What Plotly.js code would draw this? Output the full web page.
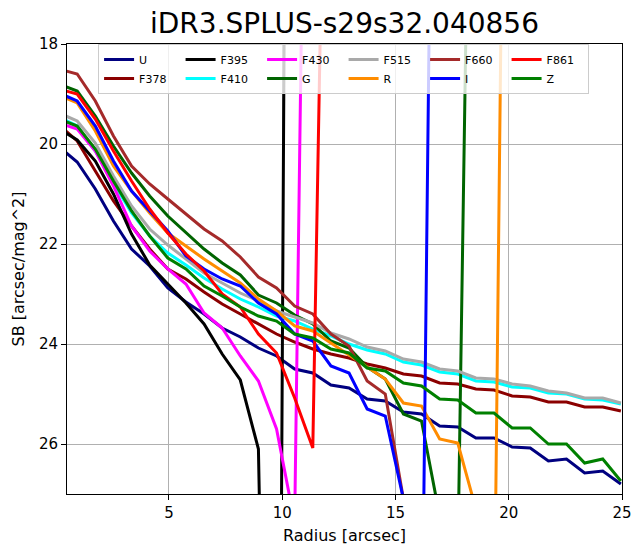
<!DOCTYPE html>
<html>
<head>
<meta charset="utf-8">
<script src="https://cdn.plot.ly/plotly-3.0.1.min.js"></script>
<style>html,body{margin:0;padding:0;background:#fff;}#chart{width:634px;height:550px;}</style>
</head>
<body>
<div id="chart"></div>
<script>
const radius = [0.15, 0.95, 1.75, 2.55, 3.35, 4.15, 4.95, 5.75, 6.55, 7.35, 8.15, 8.95, 9.75, 10.55, 11.35, 12.15,
                12.95, 13.75, 14.55, 15.35, 16.15, 16.95, 17.75, 18.55, 19.35, 20.15, 20.95, 21.75, 22.55, 23.35, 24.15, 24.95];

const sbU    = [20.06, 20.36, 20.9, 21.54, 22.1, 22.44, 22.88, 23.16, 23.4, 23.68, 23.86, 24.08, 24.24, 24.5, 24.58, 24.82,
                24.88, 25.1, 25.14, 25.36, 25.4, 25.64, 25.66, 25.88, 25.88, 26.06, 26.08, 26.34, 26.3, 26.58, 26.54, 26.8];
const sbF378 = [19.62, 19.94, 20.54, 21.14, 21.64, 22.1, 22.5, 22.7, 22.96, 23.2, 23.4, 23.6, 23.8, 23.96, 24.1, 24.2,
                24.28, 24.4, 24.48, 24.6, 24.64, 24.78, 24.8, 24.9, 24.92, 25.04, 25.06, 25.16, 25.16, 25.26, 25.26, 25.34];
const sbF395 = [19.7, 19.92, 20.34, 21.0, 21.8, 22.42, 22.8, 23.18, 23.6, 24.2, 24.72, 26.1, 45.0, -20, null, null,
                null, null, null, null, null, null, null, null, null, null, null, null, null, null, null, null];
const sbF410 = [19.46, 19.64, 20.14, 20.78, 21.38, 21.84, 22.18, 22.42, 22.68, 22.9, 23.1, 23.26, 23.44, 23.54, 23.7, 23.84,
                24.0, 24.12, 24.2, 24.36, 24.42, 24.56, 24.6, 24.74, 24.76, 24.86, 24.88, 24.98, 25.0, 25.1, 25.12, 25.2];
const sbF430 = [19.58, 19.7, 20.14, 20.84, 21.64, 22.14, 22.5, 22.8, 23.38, 23.68, 24.24, 24.74, 25.7, 27.57, 0.9, null,
                null, null, null, null, null, null, null, null, null, null, null, null, null, null, null, null];
const sbG    = [18.8, 18.94, 19.44, 20.04, 20.58, 21.04, 21.44, 21.78, 22.1, 22.38, 22.62, 23.02, 23.18, 23.42, 23.6, 23.94,
                24.08, 24.46, 24.7, 25.4, 25.54, 27.44, 28.4, 4.7, null, null, null, null, null, null, null, null];
const sbF515 = [19.38, 19.54, 19.98, 20.64, 21.24, 21.7, 22.02, 22.3, 22.58, 22.78, 22.98, 23.14, 23.34, 23.46, 23.58, 23.78,
                23.9, 24.06, 24.14, 24.3, 24.36, 24.5, 24.54, 24.68, 24.7, 24.8, 24.84, 24.94, 24.98, 25.08, 25.08, 25.18];
const sbR    = [19.02, 19.18, 19.74, 20.44, 20.94, 21.38, 21.78, 22.04, 22.3, 22.54, 22.78, 23.1, 23.34, 23.64, 23.74, 23.98,
                24.22, 24.46, 24.7, 25.18, 25.24, 25.9, 25.98, 27.3, 30.3, -2.7, null, null, null, null, null, null];
const sbF660 = [18.5, 18.6, 19.14, 19.84, 20.44, 20.8, 21.1, 21.4, 21.7, 21.94, 22.26, 22.66, 22.88, 23.24, 23.4, 23.8,
                24.04, 24.74, 25.0, 27.1, 35, null, null, null, null, null, null, null, null, null, null, null];
const sbI    = [18.98, 19.14, 19.64, 20.34, 20.94, 21.34, 21.74, 22.24, 22.5, 22.7, 22.84, 23.18, 23.4, 23.8, 23.94, 24.44,
                24.58, 25.3, 25.44, 27.1, 31.2, -0.9, null, null, null, null, null, null, null, null, null, null];
const sbF861 = [18.9, 19.0, 19.5, 20.14, 20.74, 21.3, 21.78, 22.2, 22.54, 23.0, 23.26, 23.8, 24.18, 25.08, 26.08, 6.0,
                null, null, null, null, null, null, null, null, null, null, null, null, null, null, null, null];
const sbZ    = [19.5, 19.64, 20.1, 20.74, 21.34, 21.84, 22.28, 22.5, 22.84, 23.04, 23.26, 23.44, 23.54, 23.8, 23.88, 24.1,
                24.18, 24.48, 24.54, 24.78, 24.84, 25.1, 25.12, 25.38, 25.38, 25.68, 25.68, 26.0, 26.0, 26.38, 26.3, 26.74];

const bandNames = ['U', 'F378', 'F395', 'F410', 'F430', 'G', 'F515', 'R', 'F660', 'I', 'F861', 'Z'];
const bandValues = [sbU, sbF378, sbF395, sbF410, sbF430, sbG, sbF515, sbR, sbF660, sbI, sbF861, sbZ];
const bandColors = ['#000080', '#8b0000', '#000000', '#00ffff', '#ff00ff', '#006400',
                    '#a9a9a9', '#ff8c00', '#a52a2a', '#0000ff', '#ff0000', '#008000'];
// legend is column-major in the reference (2 rows x 6 columns)
const legendRanks = [1, 7, 2, 8, 3, 9, 4, 10, 5, 11, 6, 12];

const font = 'DejaVu Sans, sans-serif';

const traces = bandNames.map((name, i) => ({
  type: 'scatter',
  mode: 'lines',
  name: name,
  x: radius,
  y: bandValues[i],
  line: {color: bandColors[i], width: 3},
  legendrank: legendRanks[i],
  connectgaps: false,
  hoverinfo: 'skip'
}));

const layout = {
  width: 634,
  height: 550,
  margin: {l: 67, r: 12, t: 44, b: 56, pad: 0},
  paper_bgcolor: '#ffffff',
  plot_bgcolor: '#ffffff',
  font: {family: font, color: '#000000'},
  title: {
    text: 'iDR3.SPLUS-s29s32.040856',
    font: {family: font, size: 28, color: '#000000'},
    xref: 'paper', x: 0.5, xanchor: 'center',
    yref: 'container', y: 0.958, yanchor: 'middle'
  },
  xaxis: {
    range: [0.5, 25],
    tickvals: [5, 10, 15, 20, 25],
    ticktext: ['5', '10', '15', '20', '25'],
    showgrid: true, gridcolor: '#b0b0b0', gridwidth: 1,
    zeroline: false,
    showline: true, linecolor: '#000000', linewidth: 1, mirror: true,
    ticks: 'outside', ticklen: 5, tickcolor: '#000000', tickwidth: 1,
    tickfont: {family: font, size: 15, color: '#000000'},
    title: {text: 'Radius [arcsec]', font: {family: font, size: 16, color: '#000000'}, standoff: 8}
  },
  yaxis: {
    range: [27, 18],
    tickvals: [18, 20, 22, 24, 26],
    ticktext: ['18', '20', '22', '24', '26'],
    showgrid: true, gridcolor: '#b0b0b0', gridwidth: 1,
    zeroline: false,
    showline: true, linecolor: '#000000', linewidth: 1, mirror: true,
    ticks: 'outside', ticklen: 5, tickcolor: '#000000', tickwidth: 1,
    tickfont: {family: font, size: 15, color: '#000000'},
    title: {text: 'SB [arcsec/mag^2]', font: {family: font, size: 16, color: '#000000'}, standoff: 10}
  },
  showlegend: true,
  legend: {
    orientation: 'h',
    x: 0.056, xanchor: 'left',
    y: 1.0, yanchor: 'top',
    entrywidth: 36.5, entrywidthmode: 'pixels',
    traceorder: 'normal',
    font: {family: font, size: 11, color: '#000000'},
    bgcolor: 'rgba(255,255,255,0.8)',
    bordercolor: '#cccccc', borderwidth: 1,
    tracegroupgap: 0
  }
};

Plotly.newPlot('chart', traces, layout, {displayModeBar: false, staticPlot: true});
</script>
</body>
</html>
